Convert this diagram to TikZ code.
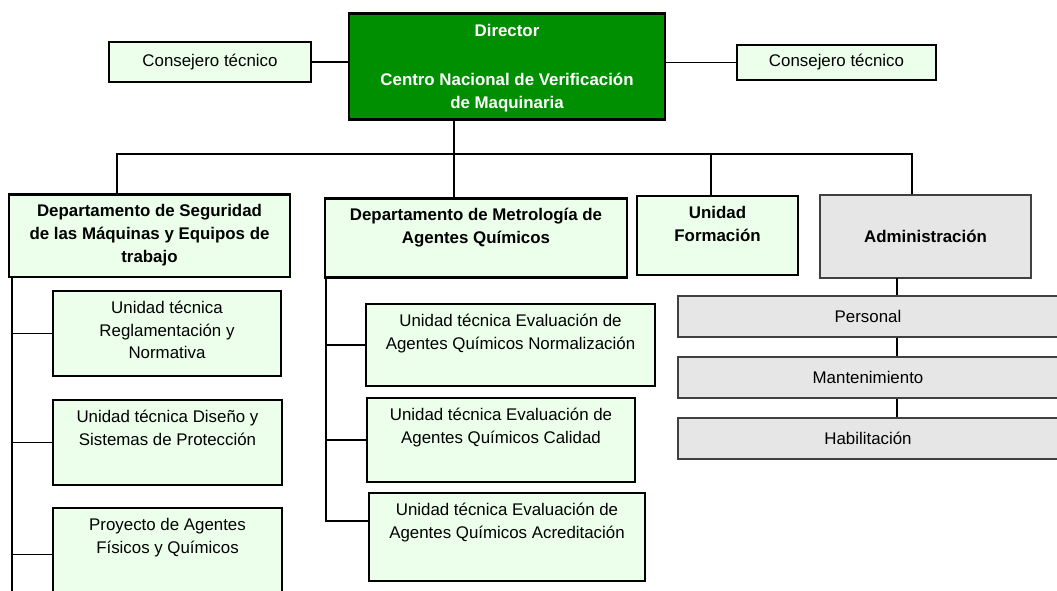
\documentclass[tikz,border=0pt]{standalone}
\usepackage{fontspec}
\setmainfont{Liberation Sans}
\usepackage{xcolor}
\definecolor{verde}{RGB}{0,143,0}
\definecolor{verdeclaro}{RGB}{235,255,235}
\definecolor{gris}{RGB}{230,230,230}
\definecolor{grisborde}{RGB}{64,64,64}
\tikzset{
	caja/.style={draw, fill=verdeclaro, line width=1.2pt, align=center, inner xsep=2pt, font=\fontsize{12}{16.2}\selectfont},
	unidad/.style={caja, anchor=north, inner ysep=0pt},
	dos/.style={text height=32.2pt},
	tres/.style={text height=48.4pt},
	depto/.style={unidad, line width=1.8pt, font=\fontsize{12}{16.2}\selectfont\bfseries},
	admin/.style={caja, fill=gris, draw=grisborde, line width=0.9pt},
	linea/.style={line width=1pt}
}
\begin{document}
\begin{tikzpicture}
		\useasboundingbox (0,0) rectangle (26.425,-14.75);
		% direccion
		\node[depto, fill=verde, text=white, line width=1.9pt, font=\fontsize{12}{16.4}\selectfont\bfseries, minimum width=7.9cm, text height=67.7pt, text depth=7.7pt] (dir) at (12.675,-0.3) {Director\\[18.5pt]Centro Nacional de Verificación\\de Maquinaria};
		\node[caja, minimum width=5.05cm, minimum height=1cm] (cons1) at (5.25,-1.55) {Consejero técnico};
		\node[caja, minimum width=4.975cm, minimum height=0.875cm] (cons2) at (20.9125,-1.5625) {Consejero técnico};
		% departamentos
		\node[depto, tres, minimum width=7.025cm, text depth=10.6pt] (seg) at (3.7375,-4.825) {Departamento de Seguridad\\de las Máquinas y Equipos de\\trabajo};
		\node[depto, dos, minimum width=7.55cm, text depth=24pt] (metro) at (11.9,-4.925) {Departamento de Metrología de\\Agentes Químicos};
		\node[depto, dos, line width=1.2pt, minimum width=4.025cm, text depth=24pt] (form) at (17.9375,-4.875) {Unidad\\Formación};
		\node[admin, font=\fontsize{12}{16.2}\selectfont\bfseries, minimum width=5.275cm, minimum height=2.075cm] (adm) at (23.1375,-5.9125) {Administración};
		% unidades
		\node[unidad, tres, minimum width=5.7cm, text depth=12.1pt] (regl) at (4.175,-7.25) {Unidad técnica\\Reglamentación y\\Normativa};
		\node[unidad, dos, minimum width=5.725cm, text depth=28.3pt] (dise) at (4.1875,-9.975) {Unidad técnica Diseño y\\Sistemas de Protección};
		\node[unidad, dos, minimum width=5.725cm, text depth=34pt] (proy) at (4.1875,-12.675) {Proyecto de Agentes\\Físicos y Químicos};
		\node[unidad, dos, minimum width=7.225cm, text depth=26.1pt] (norm) at (12.7625,-7.575) {Unidad técnica Evaluación de\\Agentes Químicos Normalización};
		\node[unidad, dos, minimum width=6.7cm, text depth=27.5pt] (cali) at (12.525,-9.925) {Unidad técnica Evaluación de\\Agentes Químicos Calidad};
		\node[unidad, dos, minimum width=6.9cm, text depth=30.4pt] (acre) at (12.675,-12.3) {Unidad técnica Evaluación de\\Agentes Químicos Acreditación};
		\node[admin, minimum width=9.5cm, minimum height=1.025cm] (pers) at (21.7,-7.9125) {Personal};
		\node[admin, minimum width=9.5cm, minimum height=1.025cm] (mant) at (21.7,-9.4375) {Mantenimiento};
		\node[admin, minimum width=9.5cm, minimum height=1.025cm] (habil) at (21.7,-10.9625) {Habilitación};
		% lineas
		\draw[linea] (cons1.east) -- (dir.west |- cons1.east);
		\draw[linea] (dir.east |- cons2.west) -- (cons2.west);
		\coordinate (tronco) at (11.35,-2.95);
		\draw[line width=1.4pt] (tronco) -- (tronco |- metro.north);
		\coordinate (busL) at (2.925,-3.85);
		\coordinate (busF) at (17.775,-3.85);
		\coordinate (busR) at (22.8,-3.85);
		\draw[linea] (busL |- seg.north) -- (busL) -- (busR) -- (busR |- adm.north);
		\draw[linea] (busF) -- (busF |- form.north);
		\coordinate (ejeL) at (0.3,-6.9);
		\coordinate (finL) at (0.3,-14.9);
		\draw[linea] (ejeL) -- (finL);
		\foreach \n in {regl,dise,proy}
			\draw[linea] (ejeL |- \n.west) -- (\n.west);
		\coordinate (ejeM) at (8.15,-6.9);
		\coordinate (acreW) at ([yshift=0.4cm]acre.west);
		\draw[linea] (ejeM) -- (ejeM |- acreW) -- (acreW);
		\foreach \n in {norm,cali}
			\draw[linea] (ejeM |- \n.west) -- (\n.west);
		\coordinate (ejeA) at (22.425,-6.95);
		\draw[line width=1.4pt] (ejeA) -- (ejeA |- pers.north);
		\draw[line width=1.4pt] (ejeA |- pers.south) -- (ejeA |- mant.north);
		\draw[line width=1.4pt] (ejeA |- mant.south) -- (ejeA |- habil.north);
		\end{tikzpicture}
\end{document}
